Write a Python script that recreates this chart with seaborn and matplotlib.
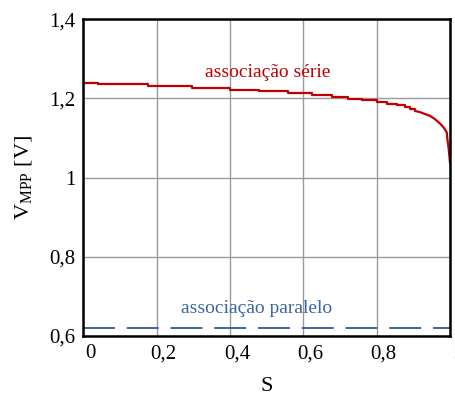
import matplotlib
matplotlib.use("Agg")
import matplotlib.pyplot as plt
import matplotlib.transforms as mtransforms
import seaborn as sns
import pandas as pd

# Data
s_steps = [0.0, 0.04, 0.175, 0.295, 0.40, 0.48, 0.557, 0.623, 0.678, 0.721, 0.76,
           0.80, 0.828, 0.855, 0.877, 0.891, 0.905]
v_steps = [1.2395, 1.2352, 1.231, 1.226, 1.222, 1.2176, 1.2126, 1.209, 1.2033, 1.199,
           1.195, 1.1907, 1.1867, 1.1824, 1.177, 1.172, 1.168]
s_tail = [0.905, 0.917, 0.930, 0.945, 0.958, 0.972, 0.982, 0.991, 0.993, 0.996,
          0.998, 1.0]
v_tail = [1.168, 1.1655, 1.161, 1.156, 1.148, 1.137, 1.127, 1.114, 1.094, 1.075,
          1.055, 1.035]
s_paralelo = [0.0, 1.0]
v_paralelo = [0.619, 0.619]
xticks = [0, 0.2, 0.4, 0.6, 0.8, 1.0]
xtick_labels = ["0", "0,2", "0,4", "0,6", "0,8", "1"]
yticks = [0.6, 0.8, 1.0, 1.2, 1.4]
ytick_labels = ["0,6", "0,8", "1", "1,2", "1,4"]

sns.set_theme(style="white")
plt.rcParams["font.family"] = ["Liberation Serif", "DejaVu Serif"]
plt.rcParams["mathtext.fontset"] = "custom"
plt.rcParams["mathtext.rm"] = "Liberation Serif"
plt.rcParams["lines.scale_dashes"] = False

fig = plt.figure(figsize=(4.56, 3.99), dpi=100)
ax = fig.add_axes([0.183, 0.158, 0.804, 0.794])

red = "#C00000"
blue = "#3C66A0"

df1 = pd.DataFrame({"S": s_steps, "V": v_steps})
df1b = pd.DataFrame({"S": s_tail, "V": v_tail})
df2 = pd.DataFrame({"S": s_paralelo, "V": v_paralelo})
sns.lineplot(data=df1, x="S", y="V", ax=ax, color=red, lw=1.6,
             drawstyle="steps-post", estimator=None, sort=False)
sns.lineplot(data=df1b, x="S", y="V", ax=ax, color=red, lw=1.6,
             estimator=None, sort=False)
sns.lineplot(data=df2, x="S", y="V", ax=ax, color=blue, lw=1.4,
             estimator=None)
ax.lines[-1].set_dashes((23, 8.5))
ax.lines[-1].set_dash_capstyle("butt")

ax.set_xlim(0, 1.0)
ax.set_ylim(0.6, 1.4)
ax.set_xticks(xticks)
ax.set_xticklabels(xtick_labels)
ax.set_yticks(yticks)
ax.set_yticklabels(ytick_labels)
ax.tick_params(axis="both", labelsize=15, length=0, colors="black", pad=6)
ax.tick_params(axis="x", pad=6)
offset = mtransforms.ScaledTranslation(7 / 100, 0, fig.dpi_scale_trans)
for lab in ax.get_xticklabels():
    lab.set_transform(lab.get_transform() + offset)
    lab.set_clip_on(False)

ax.grid(True, color="#9a9a9a", lw=1.0)
for sp in ax.spines.values():
    sp.set_color("black")
    sp.set_linewidth(1.8)
    sp.set_visible(True)

ax.set_xlabel("S", fontsize=16, color="black", labelpad=10)
ax.set_ylabel(r"V$_{\mathrm{MPP}}$ [V]", fontsize=16, color="black", labelpad=10)

ax.text(0.503, 1.265, "associação série", color=red, fontsize=14,
        ha="center", va="center")
ax.text(0.473, 0.670, "associação paralelo", color=blue, fontsize=14,
        ha="center", va="center")

fig.savefig("out.png", dpi=100)
